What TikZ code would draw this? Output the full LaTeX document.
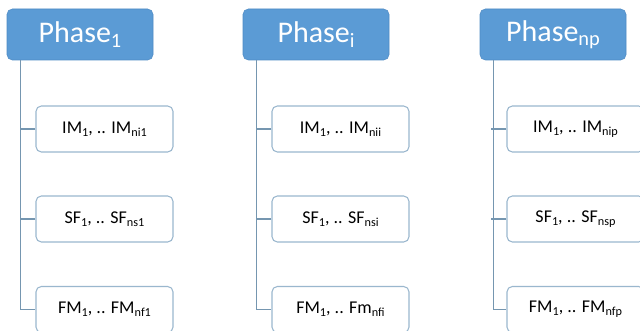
\documentclass[tikz,border=0pt]{standalone}
\usepackage{fontspec}
\setmainfont{Carlito}
\definecolor{phblue}{HTML}{5B9BD5}
\definecolor{phborder}{HTML}{4F8BC4}
\definecolor{chborder}{HTML}{9AB7CE}
\definecolor{linecol}{HTML}{7596B0}
\newcommand{\sbs}[1]{\raisebox{-0.3ex}{\scalebox{0.68}{#1}}}
\begin{document}
\begin{tikzpicture}[x=0.75pt,y=-0.75pt,
  phasebox/.style={draw=phborder, fill=phblue, rounded corners=4pt, minimum width=109.5pt, minimum height=38.25pt, text=white, font=\fontsize{22.5}{26}\selectfont, inner sep=0pt},
  childbox/.style={draw=chborder, fill=white, rounded corners=4pt, minimum width=102.75pt, minimum height=34.5pt, font=\fontsize{13.5}{16}\selectfont, inner sep=0pt, line width=0.8pt},
  conn/.style={draw=linecol, line width=1.1pt}]
\fill[white] (0,0) rectangle (640,331);
\useasboundingbox (0,0) rectangle (640,331);
% column 1
\node[phasebox] (p1) at (80,34.5) {Phase\sbs{1}};
\node[childbox] (im1) at (104.5,129) {IM\sbs{1}, .. IM\sbs{ni1}};
\node[childbox] (sf1) at (104.5,219) {SF\sbs{1}, .. SF\sbs{ns1}};
\node[childbox] (fm1) at (104.5,309.5) {FM\sbs{1}, .. FM\sbs{nf1}};
% column i
\node[phasebox] (pi) at (316,34.5) {Phase\sbs{i}};
\node[childbox] (imi) at (340.5,129) {IM\sbs{1}, .. IM\sbs{nii}};
\node[childbox] (sfi) at (340.5,219) {SF\sbs{1}, .. SF\sbs{nsi}};
\node[childbox] (fmi) at (340.5,309.5) {FM\sbs{1}, .. Fm\sbs{nfi}};
% column np
\node[phasebox] (pn) at (553,34.5) {Phase\sbs{np}};
\node[childbox] (imn) at (575.5,129) {IM\sbs{1}, .. IM\sbs{nip}};
\node[childbox] (sfn) at (575.5,219) {SF\sbs{1}, .. SF\sbs{nsp}};
\node[childbox] (fmn) at (575.5,309.5) {FM\sbs{1}, .. FM\sbs{nfp}};
% connectors
\foreach \p/\a/\b/\c in {p1/im1/sf1/fm1, pi/imi/sfi/fmi, pn/imn/sfn/fmn}{
  \draw[conn] (\p.south west) ++(14,0) |- (\c.west);
  \draw[conn] (\a.west) -- ++(-15,0);
  \draw[conn] (\b.west) -- ++(-15,0);
}
\end{tikzpicture}
\end{document}
